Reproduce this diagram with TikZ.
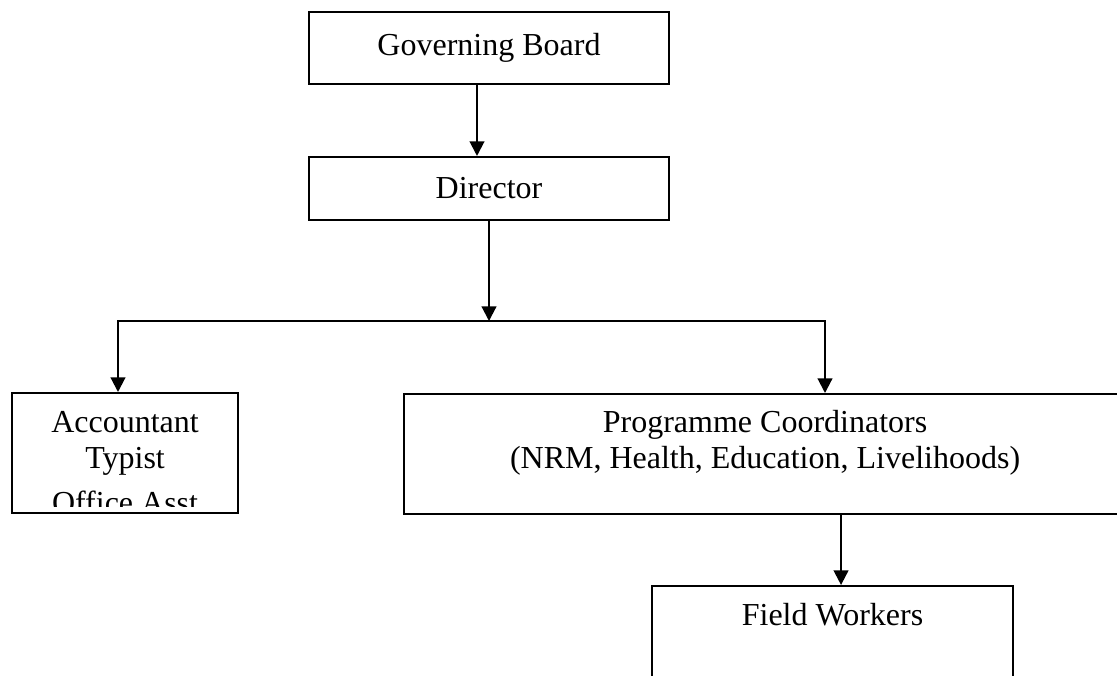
\documentclass[tikz,border=0pt]{standalone}
\usepackage{fontspec}
\setmainfont{Liberation Serif}
\usetikzlibrary{arrows.meta, positioning}

\begin{document}
\begin{tikzpicture}[
    x=0.375pt, y=-0.375pt,
    every node/.style={font=\fontsize{12}{13.5}\selectfont},
    orgbox/.style={rectangle, draw=black, thick, inner sep=0pt},
    boxtext/.style={align=center, inner sep=0pt},
    arrow/.style={-{Triangle[length=5.5pt, width=5.5pt]}, thick}
]

\useasboundingbox (0,0) rectangle (1117,675);
\clip (0,0) rectangle (1117,675);

\node (board) [orgbox, minimum width=135pt, minimum height=27pt] at (489,48) {Governing Board};
\node (director) [orgbox, minimum width=135pt, minimum height=23.6pt] at (489,188.5) {Director};

\node (acct) [orgbox, anchor=north west, minimum width=84.75pt, minimum height=45pt] at (11,392) {};
\begin{scope}
    \clip (acct.north west) rectangle ([yshift=3pt]acct.south east);
    \node (accttext) [boxtext, below=6.9pt of acct.north] {Accountant\\Typist\\[3.5pt]Office Asst};
\end{scope}

\node (pc) [orgbox, anchor=north west, minimum width=270.75pt, minimum height=45pt] at (403,393) {};
\node (pctext) [boxtext, below=6.4pt of pc.north] {Programme Coordinators\\(NRM, Health, Education, Livelihoods)};

\node (fw) [orgbox, anchor=north, minimum width=135.4pt, minimum height=45pt] at (832.5,585) {};
\node (fwtext) [boxtext, below=6.8pt of fw.north] {Field Workers};

\coordinate (bus) at (489,321);
\coordinate (busleft) at (118,321);
\coordinate (busright) at (825,321);

\draw [arrow] ([xshift=-4.5pt]board.south) -- ([xshift=-4.5pt]director.north);
\draw [arrow] (director) -- (bus);
\draw [arrow] (bus) -- (busleft) -- (busleft |- acct.north);
\draw [arrow] (bus) -- (busright) -- (busright |- pc.north);
\draw [arrow] ([xshift=3.2pt]fw.north |- pc.south) -- ([xshift=3.2pt]fw.north);

\end{tikzpicture}
\end{document}
